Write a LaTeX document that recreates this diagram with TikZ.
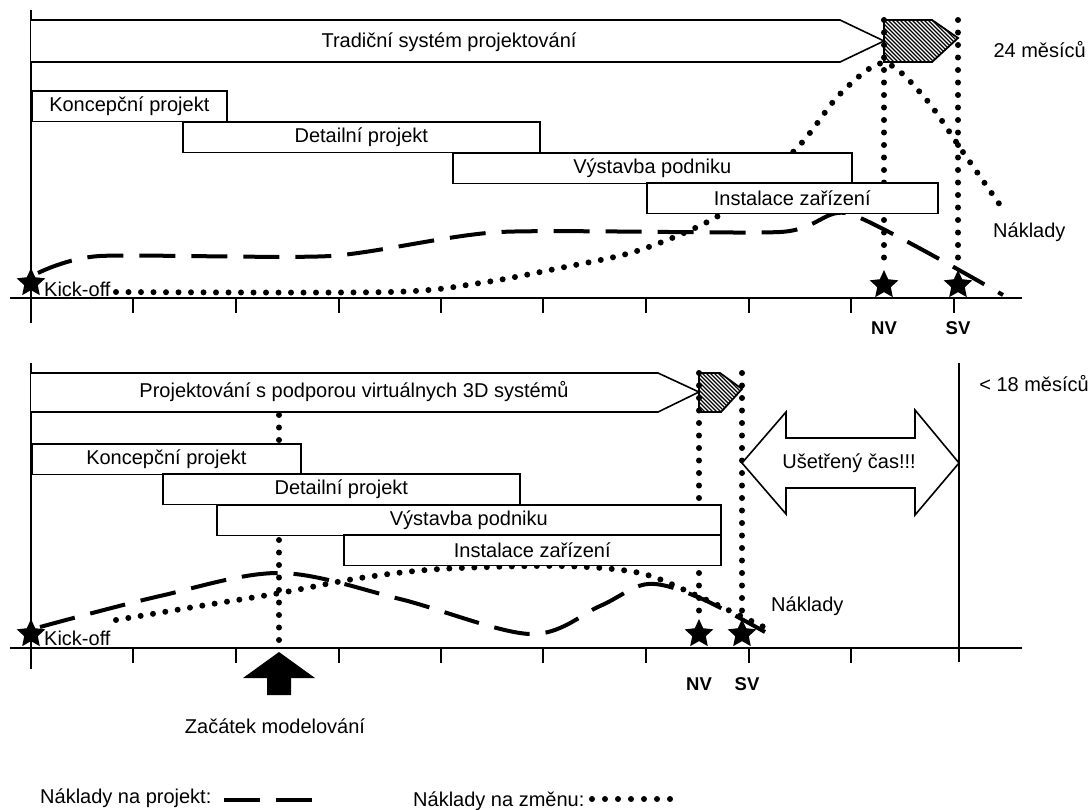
\documentclass[tikz,border=0pt]{standalone}
\usepackage{fontspec}
\setmainfont{Liberation Sans}
\usetikzlibrary{shapes.geometric}
\begin{document}
\begin{tikzpicture}[x=1pt,y=-1pt,
  lbl/.style={font=\fontsize{20}{23}\selectfont, inner sep=0pt},
  boldlbl/.style={font=\fontsize{18.5}{22}\selectfont\bfseries, inner sep=0pt},
  axis/.style={line width=2.2pt},
  tick/.style={line width=1.8pt},
  phase/.style={draw, line width=1.6pt, fill=white, minimum height=30.5pt, inner sep=0pt, font=\fontsize{20}{23}\selectfont, anchor=north west},
  bigarrow/.style={draw, line width=1.6pt, fill=white},
  hatchline/.style={line width=1.1pt},
  dots/.style={line width=6pt, line cap=round, dash pattern=on 0pt off 12.5pt},
  dashes/.style={line width=4pt, dash pattern=on 36pt off 16pt},
  milestone/.style={star, star points=5, star point ratio=2.1, fill=black, minimum size=30pt, inner sep=0pt}
]
\useasboundingbox (0,0) rectangle (1091,809);

% ================= TOP PANEL =================
\draw[dashes] plot[smooth, tension=0.4] coordinates {(38,273) (100,256) (330,256) (500,232) (780,232) (850,214) (1003,295)};
\draw[dots] plot[smooth, tension=0.5] coordinates {(116,292) (390,292) (480,283) (560,268) (640,250) (723,213) (797,148) (840,94) (884,63) (925,98) (965,155) (1000,205)};

\node[milestone] (k1) at (31,283) {};
\node[milestone] (nv1) at (884,285) {};
\node[milestone] (sv1) at (958,285) {};

\coordinate (h1a) at (884,20);
\coordinate (h1b) at (958,20);
\draw[dots] (h1a) -- (nv1.north);
\draw[dots] (h1b) -- (sv1.north);

\draw[axis] (31,10) -- (31,323);
\draw[axis] (10,298) -- (1022,298);
\foreach \x in {133,236,339,441,543,646,749,851,954} \draw[tick] (\x,298) -- (\x,313);

\node[phase, minimum width=195pt] (kp1) at (31,90) {Koncepční projekt};
\node[phase, minimum width=357pt] (dp1) at (182,121) {Detailní projekt};
\node[phase, minimum width=399pt] (vp1) at (452,152) {Výstavba podniku};
\node[phase, minimum width=291pt] (iz1) at (646,182) {Instalace zařízení};

\draw[bigarrow] (31,20) -- (840,20) -- (884,41) -- (840,62) -- (31,62);
\node[lbl] (t1) at (449,42) {Tradiční systém projektování};
\begin{scope}
  \clip (884,20) -- (932,20) -- (958,38) -- (932,62) -- (884,62) -- cycle;
  \foreach \i in {-70,-66,...,80} \draw[hatchline] (884+\i,14) -- ++(56,56);
\end{scope}
\draw[line width=1.8pt] (884,20) -- (932,20) -- (958,38) -- (932,62) -- (884,62) -- cycle;

\node[lbl, anchor=west] (ko1) at (44,289) {Kick-off};
\node[boldlbl] (nvl1) at (884,328) {NV};
\node[boldlbl] (svl1) at (958,328) {SV};
\node[lbl, anchor=east] (m24) at (1086,50) {24 měsíců};
\node[lbl, anchor=west] (nk1) at (993,232) {Náklady};

% ================= BOTTOM PANEL =================
\draw[dashes] plot[smooth, tension=0.55] coordinates {(40,627) (160,596) (280,573) (400,599) (530,634) (600,606) (648,584) (700,598) (765,632)};
\draw[dots] plot[smooth, tension=0.5] coordinates {(116,620) (200,606) (280,593) (360,578) (440,569) (560,566) (640,573) (700,597) (766,628)};

\node[milestone] (k2) at (31,634) {};
\node[milestone] (nv2) at (699,634) {};
\node[milestone] (sv2) at (742,634) {};

\coordinate (h2a) at (699,373);
\coordinate (h2b) at (742,373);
\coordinate (zm) at (279,415);
\coordinate (zmb) at (279,644);
\draw[dots] (h2a) -- (nv2.north);
\draw[dots] (h2b) -- (sv2.north);
\draw[dots] (zm) -- (zmb);

\draw[axis] (31,363) -- (31,669);
\draw[axis] (10,648) -- (1022,648);
\foreach \x in {133,236,339,441,543,646,749,851} \draw[tick] (\x,648) -- (\x,663);
\draw[axis] (959,363) -- (959,662);

\node[phase, minimum width=269pt] (kp2) at (31,443) {Koncepční projekt};
\node[phase, minimum width=357pt] (dp2) at (162,473) {Detailní projekt};
\node[phase, minimum width=504pt] (vp2) at (216,504) {Výstavba podniku};
\node[phase, minimum width=377pt] (iz2) at (343,534) {Instalace zařízení};

\draw[bigarrow] (31,373) -- (658,373) -- (699,392) -- (658,412) -- (31,412);
\node[lbl] (t2) at (354,392) {Projektování s podporou virtuálnych 3D systémů};
\begin{scope}
  \clip (699,373) -- (720,373) -- (742,389) -- (721,412) -- (699,412) -- cycle;
  \foreach \i in {-50,-46,...,50} \draw[hatchline] (699+\i,368) -- ++(50,50);
\end{scope}
\draw[line width=1.8pt] (699,373) -- (720,373) -- (742,389) -- (721,412) -- (699,412) -- cycle;

\draw[bigarrow] (742,463) -- (786,412) -- (786,438) -- (915,438) -- (915,410) -- (959,463) -- (915,515) -- (915,488) -- (786,488) -- (786,514) -- cycle;
\node[lbl] (uc) at (849,463) {Ušetřený čas!!!};

\fill (279,652) -- (315,678) -- (291,678) -- (291,695) -- (267,695) -- (267,678) -- (243,678) -- cycle;
\node[lbl] (zac) at (275,726) {Začátek modelování};

\node[lbl, anchor=west] (ko2) at (44,638) {Kick-off};
\node[boldlbl] (nvl2) at (699,684) {NV};
\node[boldlbl] (svl2) at (747,684) {SV};
\node[lbl, anchor=east] (m18) at (1089,384) {< 18 měsíců};
\node[lbl, anchor=west] (nk2) at (771,606) {Náklady};

% ================= LEGEND =================
\node[lbl, anchor=west] (lg1) at (40,798) {Náklady na projekt:};
\coordinate (lg1a) at (224,800);
\coordinate (lg1b) at (312,800);
\draw[dashes] (lg1a) -- (lg1b);
\node[lbl, anchor=west] (lg2) at (413,801) {Náklady na změnu:};
\coordinate (lg2a) at (592,799);
\coordinate (lg2b) at (682,799);
\draw[dots, dash pattern=on 0pt off 13pt] (lg2a) -- (lg2b);
\end{tikzpicture}
\end{document}
